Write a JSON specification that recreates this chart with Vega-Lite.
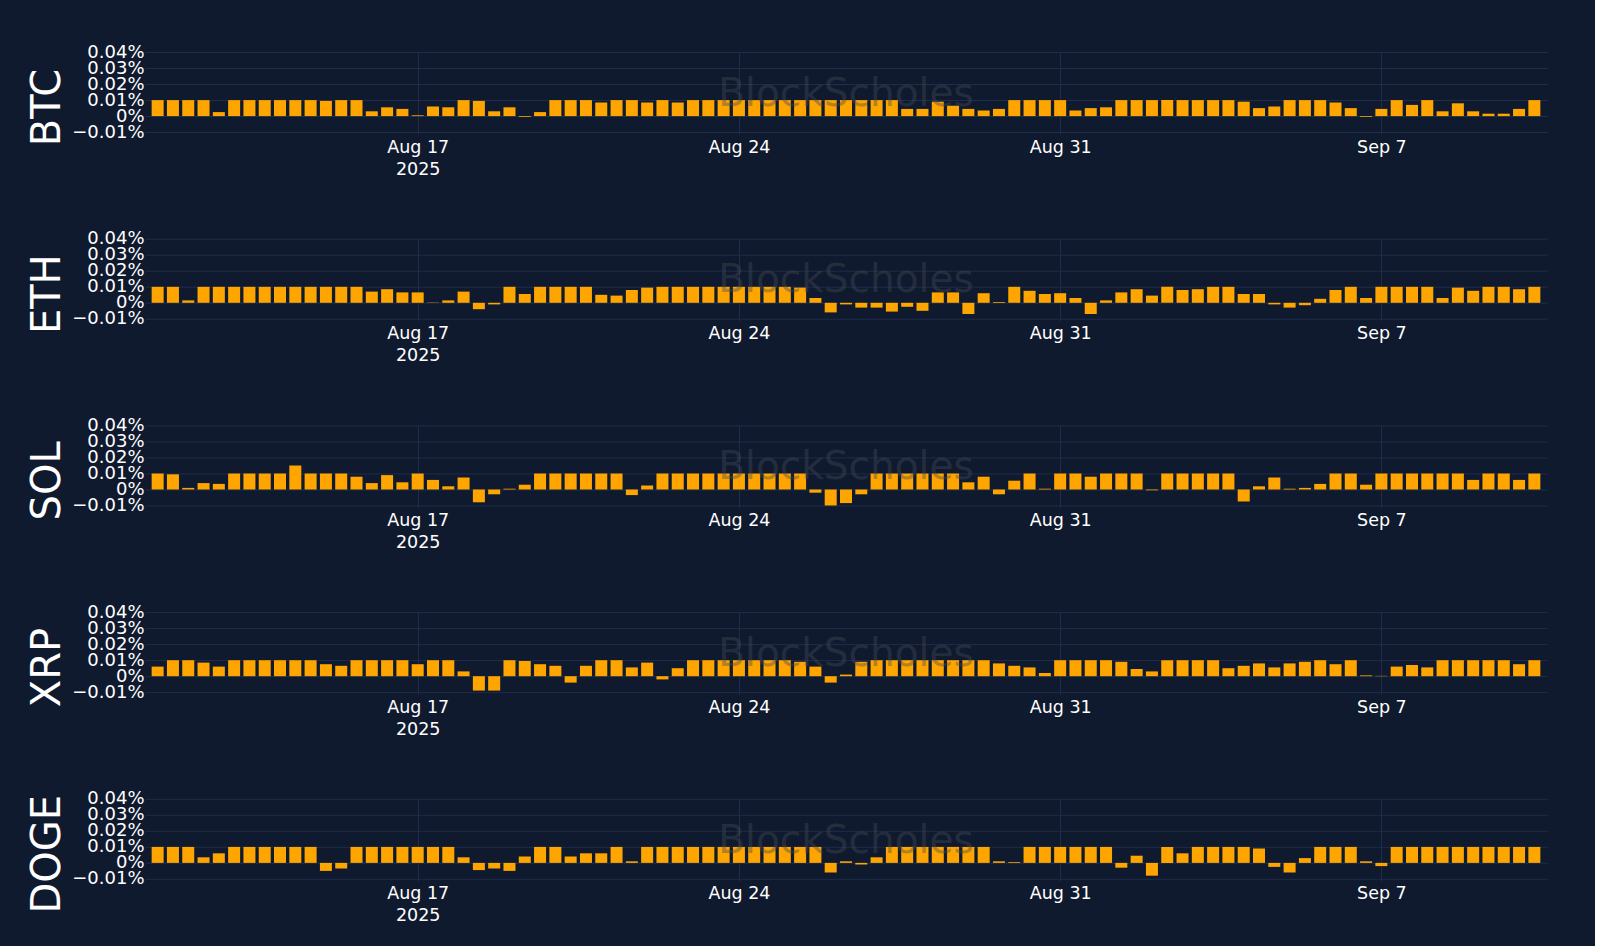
{
  "$schema": "https://vega.github.io/schema/vega-lite/v6.json",
  "background": "#101a2e",
  "padding": {"left": 27, "top": 43, "right": 48, "bottom": 22},
  "spacing": 104.7,
  "bounds": "flush",
  "datasets": {
    "BTC": [
      {"time":"2025-08-11T08:00Z","rate":0.01},{"time":"2025-08-11T16:00Z","rate":0.01},{"time":"2025-08-12T00:00Z","rate":0.01},{"time":"2025-08-12T08:00Z","rate":0.01},{"time":"2025-08-12T16:00Z","rate":0.0025},
      {"time":"2025-08-13T00:00Z","rate":0.01},{"time":"2025-08-13T08:00Z","rate":0.01},{"time":"2025-08-13T16:00Z","rate":0.01},{"time":"2025-08-14T00:00Z","rate":0.01},{"time":"2025-08-14T08:00Z","rate":0.01},
      {"time":"2025-08-14T16:00Z","rate":0.01},{"time":"2025-08-15T00:00Z","rate":0.0095},{"time":"2025-08-15T08:00Z","rate":0.01},{"time":"2025-08-15T16:00Z","rate":0.01},{"time":"2025-08-16T00:00Z","rate":0.003},
      {"time":"2025-08-16T08:00Z","rate":0.0055},{"time":"2025-08-16T16:00Z","rate":0.0045},{"time":"2025-08-17T00:00Z","rate":0.0005},{"time":"2025-08-17T08:00Z","rate":0.006},{"time":"2025-08-17T16:00Z","rate":0.0055},
      {"time":"2025-08-18T00:00Z","rate":0.01},{"time":"2025-08-18T08:00Z","rate":0.0095},{"time":"2025-08-18T16:00Z","rate":0.003},{"time":"2025-08-19T00:00Z","rate":0.0055},{"time":"2025-08-19T08:00Z","rate":-0.0005},
      {"time":"2025-08-19T16:00Z","rate":0.0025},{"time":"2025-08-20T00:00Z","rate":0.01},{"time":"2025-08-20T08:00Z","rate":0.01},{"time":"2025-08-20T16:00Z","rate":0.01},{"time":"2025-08-21T00:00Z","rate":0.0085},
      {"time":"2025-08-21T08:00Z","rate":0.01},{"time":"2025-08-21T16:00Z","rate":0.01},{"time":"2025-08-22T00:00Z","rate":0.0085},{"time":"2025-08-22T08:00Z","rate":0.01},{"time":"2025-08-22T16:00Z","rate":0.0085},
      {"time":"2025-08-23T00:00Z","rate":0.01},{"time":"2025-08-23T08:00Z","rate":0.01},{"time":"2025-08-23T16:00Z","rate":0.01},{"time":"2025-08-24T00:00Z","rate":0.01},{"time":"2025-08-24T08:00Z","rate":0.01},
      {"time":"2025-08-24T16:00Z","rate":0.01},{"time":"2025-08-25T00:00Z","rate":0.01},{"time":"2025-08-25T08:00Z","rate":0.01},{"time":"2025-08-25T16:00Z","rate":0.01},{"time":"2025-08-26T00:00Z","rate":0.01},
      {"time":"2025-08-26T08:00Z","rate":0.01},{"time":"2025-08-26T16:00Z","rate":0.01},{"time":"2025-08-27T00:00Z","rate":0.01},{"time":"2025-08-27T08:00Z","rate":0.01},{"time":"2025-08-27T16:00Z","rate":0.0045},
      {"time":"2025-08-28T00:00Z","rate":0.0045},{"time":"2025-08-28T08:00Z","rate":0.009},{"time":"2025-08-28T16:00Z","rate":0.0065},{"time":"2025-08-29T00:00Z","rate":0.0045},{"time":"2025-08-29T08:00Z","rate":0.0035},
      {"time":"2025-08-29T16:00Z","rate":0.0045},{"time":"2025-08-30T00:00Z","rate":0.01},{"time":"2025-08-30T08:00Z","rate":0.01},{"time":"2025-08-30T16:00Z","rate":0.01},{"time":"2025-08-31T00:00Z","rate":0.01},
      {"time":"2025-08-31T08:00Z","rate":0.0035},{"time":"2025-08-31T16:00Z","rate":0.005},{"time":"2025-09-01T00:00Z","rate":0.0055},{"time":"2025-09-01T08:00Z","rate":0.01},{"time":"2025-09-01T16:00Z","rate":0.01},
      {"time":"2025-09-02T00:00Z","rate":0.01},{"time":"2025-09-02T08:00Z","rate":0.01},{"time":"2025-09-02T16:00Z","rate":0.01},{"time":"2025-09-03T00:00Z","rate":0.01},{"time":"2025-09-03T08:00Z","rate":0.01},
      {"time":"2025-09-03T16:00Z","rate":0.01},{"time":"2025-09-04T00:00Z","rate":0.009},{"time":"2025-09-04T08:00Z","rate":0.005},{"time":"2025-09-04T16:00Z","rate":0.006},{"time":"2025-09-05T00:00Z","rate":0.01},
      {"time":"2025-09-05T08:00Z","rate":0.01},{"time":"2025-09-05T16:00Z","rate":0.01},{"time":"2025-09-06T00:00Z","rate":0.0085},{"time":"2025-09-06T08:00Z","rate":0.005},{"time":"2025-09-06T16:00Z","rate":-0.0005},
      {"time":"2025-09-07T00:00Z","rate":0.0045},{"time":"2025-09-07T08:00Z","rate":0.01},{"time":"2025-09-07T16:00Z","rate":0.007},{"time":"2025-09-08T00:00Z","rate":0.01},{"time":"2025-09-08T08:00Z","rate":0.003},
      {"time":"2025-09-08T16:00Z","rate":0.008},{"time":"2025-09-09T00:00Z","rate":0.003},{"time":"2025-09-09T08:00Z","rate":0.0015},{"time":"2025-09-09T16:00Z","rate":0.0015},{"time":"2025-09-10T00:00Z","rate":0.0045},
      {"time":"2025-09-10T08:00Z","rate":0.01}
    ],
    "ETH": [
      {"time":"2025-08-11T08:00Z","rate":0.01},{"time":"2025-08-11T16:00Z","rate":0.01},{"time":"2025-08-12T00:00Z","rate":0.0015},{"time":"2025-08-12T08:00Z","rate":0.01},{"time":"2025-08-12T16:00Z","rate":0.01},
      {"time":"2025-08-13T00:00Z","rate":0.01},{"time":"2025-08-13T08:00Z","rate":0.01},{"time":"2025-08-13T16:00Z","rate":0.01},{"time":"2025-08-14T00:00Z","rate":0.01},{"time":"2025-08-14T08:00Z","rate":0.01},
      {"time":"2025-08-14T16:00Z","rate":0.01},{"time":"2025-08-15T00:00Z","rate":0.01},{"time":"2025-08-15T08:00Z","rate":0.01},{"time":"2025-08-15T16:00Z","rate":0.01},{"time":"2025-08-16T00:00Z","rate":0.007},
      {"time":"2025-08-16T08:00Z","rate":0.0085},{"time":"2025-08-16T16:00Z","rate":0.0065},{"time":"2025-08-17T00:00Z","rate":0.0065},{"time":"2025-08-17T08:00Z","rate":0.0002},{"time":"2025-08-17T16:00Z","rate":0.0015},
      {"time":"2025-08-18T00:00Z","rate":0.007},{"time":"2025-08-18T08:00Z","rate":-0.004},{"time":"2025-08-18T16:00Z","rate":-0.001},{"time":"2025-08-19T00:00Z","rate":0.01},{"time":"2025-08-19T08:00Z","rate":0.0055},
      {"time":"2025-08-19T16:00Z","rate":0.01},{"time":"2025-08-20T00:00Z","rate":0.01},{"time":"2025-08-20T08:00Z","rate":0.01},{"time":"2025-08-20T16:00Z","rate":0.01},{"time":"2025-08-21T00:00Z","rate":0.005},
      {"time":"2025-08-21T08:00Z","rate":0.0045},{"time":"2025-08-21T16:00Z","rate":0.008},{"time":"2025-08-22T00:00Z","rate":0.0095},{"time":"2025-08-22T08:00Z","rate":0.01},{"time":"2025-08-22T16:00Z","rate":0.01},
      {"time":"2025-08-23T00:00Z","rate":0.01},{"time":"2025-08-23T08:00Z","rate":0.01},{"time":"2025-08-23T16:00Z","rate":0.01},{"time":"2025-08-24T00:00Z","rate":0.01},{"time":"2025-08-24T08:00Z","rate":0.01},
      {"time":"2025-08-24T16:00Z","rate":0.01},{"time":"2025-08-25T00:00Z","rate":0.01},{"time":"2025-08-25T08:00Z","rate":0.0095},{"time":"2025-08-25T16:00Z","rate":0.003},{"time":"2025-08-26T00:00Z","rate":-0.006},
      {"time":"2025-08-26T08:00Z","rate":-0.001},{"time":"2025-08-26T16:00Z","rate":-0.003},{"time":"2025-08-27T00:00Z","rate":-0.003},{"time":"2025-08-27T08:00Z","rate":-0.0055},{"time":"2025-08-27T16:00Z","rate":-0.0025},
      {"time":"2025-08-28T00:00Z","rate":-0.005},{"time":"2025-08-28T08:00Z","rate":0.0065},{"time":"2025-08-28T16:00Z","rate":0.0065},{"time":"2025-08-29T00:00Z","rate":-0.007},{"time":"2025-08-29T08:00Z","rate":0.006},
      {"time":"2025-08-29T16:00Z","rate":0.0005},{"time":"2025-08-30T00:00Z","rate":0.01},{"time":"2025-08-30T08:00Z","rate":0.0075},{"time":"2025-08-30T16:00Z","rate":0.0055},{"time":"2025-08-31T00:00Z","rate":0.006},
      {"time":"2025-08-31T08:00Z","rate":0.003},{"time":"2025-08-31T16:00Z","rate":-0.007},{"time":"2025-09-01T00:00Z","rate":0.0015},{"time":"2025-09-01T08:00Z","rate":0.0065},{"time":"2025-09-01T16:00Z","rate":0.0085},
      {"time":"2025-09-02T00:00Z","rate":0.0045},{"time":"2025-09-02T08:00Z","rate":0.01},{"time":"2025-09-02T16:00Z","rate":0.008},{"time":"2025-09-03T00:00Z","rate":0.0085},{"time":"2025-09-03T08:00Z","rate":0.01},
      {"time":"2025-09-03T16:00Z","rate":0.01},{"time":"2025-09-04T00:00Z","rate":0.0055},{"time":"2025-09-04T08:00Z","rate":0.0055},{"time":"2025-09-04T16:00Z","rate":-0.001},{"time":"2025-09-05T00:00Z","rate":-0.003},
      {"time":"2025-09-05T08:00Z","rate":-0.0015},{"time":"2025-09-05T16:00Z","rate":0.0025},{"time":"2025-09-06T00:00Z","rate":0.008},{"time":"2025-09-06T08:00Z","rate":0.01},{"time":"2025-09-06T16:00Z","rate":0.003},
      {"time":"2025-09-07T00:00Z","rate":0.01},{"time":"2025-09-07T08:00Z","rate":0.01},{"time":"2025-09-07T16:00Z","rate":0.01},{"time":"2025-09-08T00:00Z","rate":0.01},{"time":"2025-09-08T08:00Z","rate":0.003},
      {"time":"2025-09-08T16:00Z","rate":0.0095},{"time":"2025-09-09T00:00Z","rate":0.0075},{"time":"2025-09-09T08:00Z","rate":0.01},{"time":"2025-09-09T16:00Z","rate":0.01},{"time":"2025-09-10T00:00Z","rate":0.0085},
      {"time":"2025-09-10T08:00Z","rate":0.01}
    ],
    "SOL": [
      {"time":"2025-08-11T08:00Z","rate":0.01},{"time":"2025-08-11T16:00Z","rate":0.0095},{"time":"2025-08-12T00:00Z","rate":0.001},{"time":"2025-08-12T08:00Z","rate":0.004},{"time":"2025-08-12T16:00Z","rate":0.0035},
      {"time":"2025-08-13T00:00Z","rate":0.01},{"time":"2025-08-13T08:00Z","rate":0.01},{"time":"2025-08-13T16:00Z","rate":0.01},{"time":"2025-08-14T00:00Z","rate":0.01},{"time":"2025-08-14T08:00Z","rate":0.015},
      {"time":"2025-08-14T16:00Z","rate":0.01},{"time":"2025-08-15T00:00Z","rate":0.01},{"time":"2025-08-15T08:00Z","rate":0.01},{"time":"2025-08-15T16:00Z","rate":0.008},{"time":"2025-08-16T00:00Z","rate":0.004},
      {"time":"2025-08-16T08:00Z","rate":0.009},{"time":"2025-08-16T16:00Z","rate":0.0045},{"time":"2025-08-17T00:00Z","rate":0.01},{"time":"2025-08-17T08:00Z","rate":0.006},{"time":"2025-08-17T16:00Z","rate":0.002},
      {"time":"2025-08-18T00:00Z","rate":0.0075},{"time":"2025-08-18T08:00Z","rate":-0.008},{"time":"2025-08-18T16:00Z","rate":-0.003},{"time":"2025-08-19T00:00Z","rate":0.0005},{"time":"2025-08-19T08:00Z","rate":0.003},
      {"time":"2025-08-19T16:00Z","rate":0.01},{"time":"2025-08-20T00:00Z","rate":0.01},{"time":"2025-08-20T08:00Z","rate":0.01},{"time":"2025-08-20T16:00Z","rate":0.01},{"time":"2025-08-21T00:00Z","rate":0.01},
      {"time":"2025-08-21T08:00Z","rate":0.01},{"time":"2025-08-21T16:00Z","rate":-0.0035},{"time":"2025-08-22T00:00Z","rate":0.0025},{"time":"2025-08-22T08:00Z","rate":0.01},{"time":"2025-08-22T16:00Z","rate":0.01},
      {"time":"2025-08-23T00:00Z","rate":0.01},{"time":"2025-08-23T08:00Z","rate":0.01},{"time":"2025-08-23T16:00Z","rate":0.01},{"time":"2025-08-24T00:00Z","rate":0.01},{"time":"2025-08-24T08:00Z","rate":0.01},
      {"time":"2025-08-24T16:00Z","rate":0.01},{"time":"2025-08-25T00:00Z","rate":0.01},{"time":"2025-08-25T08:00Z","rate":0.01},{"time":"2025-08-25T16:00Z","rate":-0.002},{"time":"2025-08-26T00:00Z","rate":-0.01},
      {"time":"2025-08-26T08:00Z","rate":-0.0085},{"time":"2025-08-26T16:00Z","rate":-0.003},{"time":"2025-08-27T00:00Z","rate":0.01},{"time":"2025-08-27T08:00Z","rate":0.01},{"time":"2025-08-27T16:00Z","rate":0.01},
      {"time":"2025-08-28T00:00Z","rate":0.01},{"time":"2025-08-28T08:00Z","rate":0.01},{"time":"2025-08-28T16:00Z","rate":0.01},{"time":"2025-08-29T00:00Z","rate":0.0045},{"time":"2025-08-29T08:00Z","rate":0.008},
      {"time":"2025-08-29T16:00Z","rate":-0.003},{"time":"2025-08-30T00:00Z","rate":0.0055},{"time":"2025-08-30T08:00Z","rate":0.01},{"time":"2025-08-30T16:00Z","rate":0.0005},{"time":"2025-08-31T00:00Z","rate":0.01},
      {"time":"2025-08-31T08:00Z","rate":0.01},{"time":"2025-08-31T16:00Z","rate":0.008},{"time":"2025-09-01T00:00Z","rate":0.01},{"time":"2025-09-01T08:00Z","rate":0.01},{"time":"2025-09-01T16:00Z","rate":0.01},
      {"time":"2025-09-02T00:00Z","rate":-0.0005},{"time":"2025-09-02T08:00Z","rate":0.01},{"time":"2025-09-02T16:00Z","rate":0.01},{"time":"2025-09-03T00:00Z","rate":0.01},{"time":"2025-09-03T08:00Z","rate":0.01},
      {"time":"2025-09-03T16:00Z","rate":0.01},{"time":"2025-09-04T00:00Z","rate":-0.0075},{"time":"2025-09-04T08:00Z","rate":0.002},{"time":"2025-09-04T16:00Z","rate":0.0075},{"time":"2025-09-05T00:00Z","rate":0.0005},
      {"time":"2025-09-05T08:00Z","rate":0.001},{"time":"2025-09-05T16:00Z","rate":0.0035},{"time":"2025-09-06T00:00Z","rate":0.01},{"time":"2025-09-06T08:00Z","rate":0.01},{"time":"2025-09-06T16:00Z","rate":0.003},
      {"time":"2025-09-07T00:00Z","rate":0.01},{"time":"2025-09-07T08:00Z","rate":0.01},{"time":"2025-09-07T16:00Z","rate":0.01},{"time":"2025-09-08T00:00Z","rate":0.01},{"time":"2025-09-08T08:00Z","rate":0.01},
      {"time":"2025-09-08T16:00Z","rate":0.01},{"time":"2025-09-09T00:00Z","rate":0.006},{"time":"2025-09-09T08:00Z","rate":0.01},{"time":"2025-09-09T16:00Z","rate":0.01},{"time":"2025-09-10T00:00Z","rate":0.006},
      {"time":"2025-09-10T08:00Z","rate":0.01}
    ],
    "XRP": [
      {"time":"2025-08-11T08:00Z","rate":0.006},{"time":"2025-08-11T16:00Z","rate":0.01},{"time":"2025-08-12T00:00Z","rate":0.01},{"time":"2025-08-12T08:00Z","rate":0.0085},{"time":"2025-08-12T16:00Z","rate":0.006},
      {"time":"2025-08-13T00:00Z","rate":0.01},{"time":"2025-08-13T08:00Z","rate":0.01},{"time":"2025-08-13T16:00Z","rate":0.01},{"time":"2025-08-14T00:00Z","rate":0.01},{"time":"2025-08-14T08:00Z","rate":0.01},
      {"time":"2025-08-14T16:00Z","rate":0.01},{"time":"2025-08-15T00:00Z","rate":0.0075},{"time":"2025-08-15T08:00Z","rate":0.0065},{"time":"2025-08-15T16:00Z","rate":0.01},{"time":"2025-08-16T00:00Z","rate":0.01},
      {"time":"2025-08-16T08:00Z","rate":0.01},{"time":"2025-08-16T16:00Z","rate":0.01},{"time":"2025-08-17T00:00Z","rate":0.0075},{"time":"2025-08-17T08:00Z","rate":0.01},{"time":"2025-08-17T16:00Z","rate":0.01},
      {"time":"2025-08-18T00:00Z","rate":0.003},{"time":"2025-08-18T08:00Z","rate":-0.009},{"time":"2025-08-18T16:00Z","rate":-0.009},{"time":"2025-08-19T00:00Z","rate":0.01},{"time":"2025-08-19T08:00Z","rate":0.0095},
      {"time":"2025-08-19T16:00Z","rate":0.0075},{"time":"2025-08-20T00:00Z","rate":0.0065},{"time":"2025-08-20T08:00Z","rate":-0.004},{"time":"2025-08-20T16:00Z","rate":0.0065},{"time":"2025-08-21T00:00Z","rate":0.01},
      {"time":"2025-08-21T08:00Z","rate":0.01},{"time":"2025-08-21T16:00Z","rate":0.0055},{"time":"2025-08-22T00:00Z","rate":0.0085},{"time":"2025-08-22T08:00Z","rate":-0.002},{"time":"2025-08-22T16:00Z","rate":0.005},
      {"time":"2025-08-23T00:00Z","rate":0.01},{"time":"2025-08-23T08:00Z","rate":0.01},{"time":"2025-08-23T16:00Z","rate":0.01},{"time":"2025-08-24T00:00Z","rate":0.01},{"time":"2025-08-24T08:00Z","rate":0.01},
      {"time":"2025-08-24T16:00Z","rate":0.01},{"time":"2025-08-25T00:00Z","rate":0.01},{"time":"2025-08-25T08:00Z","rate":0.009},{"time":"2025-08-25T16:00Z","rate":0.006},{"time":"2025-08-26T00:00Z","rate":-0.004},
      {"time":"2025-08-26T08:00Z","rate":0.001},{"time":"2025-08-26T16:00Z","rate":0.009},{"time":"2025-08-27T00:00Z","rate":0.01},{"time":"2025-08-27T08:00Z","rate":0.01},{"time":"2025-08-27T16:00Z","rate":0.01},
      {"time":"2025-08-28T00:00Z","rate":0.01},{"time":"2025-08-28T08:00Z","rate":0.01},{"time":"2025-08-28T16:00Z","rate":0.01},{"time":"2025-08-29T00:00Z","rate":0.01},{"time":"2025-08-29T08:00Z","rate":0.01},
      {"time":"2025-08-29T16:00Z","rate":0.008},{"time":"2025-08-30T00:00Z","rate":0.0065},{"time":"2025-08-30T08:00Z","rate":0.0055},{"time":"2025-08-30T16:00Z","rate":0.002},{"time":"2025-08-31T00:00Z","rate":0.01},
      {"time":"2025-08-31T08:00Z","rate":0.01},{"time":"2025-08-31T16:00Z","rate":0.01},{"time":"2025-09-01T00:00Z","rate":0.01},{"time":"2025-09-01T08:00Z","rate":0.009},{"time":"2025-09-01T16:00Z","rate":0.0045},
      {"time":"2025-09-02T00:00Z","rate":0.003},{"time":"2025-09-02T08:00Z","rate":0.01},{"time":"2025-09-02T16:00Z","rate":0.01},{"time":"2025-09-03T00:00Z","rate":0.01},{"time":"2025-09-03T08:00Z","rate":0.01},
      {"time":"2025-09-03T16:00Z","rate":0.005},{"time":"2025-09-04T00:00Z","rate":0.0065},{"time":"2025-09-04T08:00Z","rate":0.008},{"time":"2025-09-04T16:00Z","rate":0.0055},{"time":"2025-09-05T00:00Z","rate":0.008},
      {"time":"2025-09-05T08:00Z","rate":0.009},{"time":"2025-09-05T16:00Z","rate":0.01},{"time":"2025-09-06T00:00Z","rate":0.0075},{"time":"2025-09-06T08:00Z","rate":0.01},{"time":"2025-09-06T16:00Z","rate":0.0005},
      {"time":"2025-09-07T00:00Z","rate":0.0002},{"time":"2025-09-07T08:00Z","rate":0.006},{"time":"2025-09-07T16:00Z","rate":0.007},{"time":"2025-09-08T00:00Z","rate":0.0055},{"time":"2025-09-08T08:00Z","rate":0.01},
      {"time":"2025-09-08T16:00Z","rate":0.01},{"time":"2025-09-09T00:00Z","rate":0.01},{"time":"2025-09-09T08:00Z","rate":0.01},{"time":"2025-09-09T16:00Z","rate":0.01},{"time":"2025-09-10T00:00Z","rate":0.0075},
      {"time":"2025-09-10T08:00Z","rate":0.01}
    ],
    "DOGE": [
      {"time":"2025-08-11T08:00Z","rate":0.01},{"time":"2025-08-11T16:00Z","rate":0.01},{"time":"2025-08-12T00:00Z","rate":0.01},{"time":"2025-08-12T08:00Z","rate":0.0035},{"time":"2025-08-12T16:00Z","rate":0.006},
      {"time":"2025-08-13T00:00Z","rate":0.01},{"time":"2025-08-13T08:00Z","rate":0.01},{"time":"2025-08-13T16:00Z","rate":0.01},{"time":"2025-08-14T00:00Z","rate":0.01},{"time":"2025-08-14T08:00Z","rate":0.01},
      {"time":"2025-08-14T16:00Z","rate":0.01},{"time":"2025-08-15T00:00Z","rate":-0.005},{"time":"2025-08-15T08:00Z","rate":-0.0035},{"time":"2025-08-15T16:00Z","rate":0.01},{"time":"2025-08-16T00:00Z","rate":0.01},
      {"time":"2025-08-16T08:00Z","rate":0.01},{"time":"2025-08-16T16:00Z","rate":0.01},{"time":"2025-08-17T00:00Z","rate":0.01},{"time":"2025-08-17T08:00Z","rate":0.01},{"time":"2025-08-17T16:00Z","rate":0.01},
      {"time":"2025-08-18T00:00Z","rate":0.0035},{"time":"2025-08-18T08:00Z","rate":-0.0045},{"time":"2025-08-18T16:00Z","rate":-0.0035},{"time":"2025-08-19T00:00Z","rate":-0.005},{"time":"2025-08-19T08:00Z","rate":0.004},
      {"time":"2025-08-19T16:00Z","rate":0.01},{"time":"2025-08-20T00:00Z","rate":0.01},{"time":"2025-08-20T08:00Z","rate":0.004},{"time":"2025-08-20T16:00Z","rate":0.006},{"time":"2025-08-21T00:00Z","rate":0.006},
      {"time":"2025-08-21T08:00Z","rate":0.01},{"time":"2025-08-21T16:00Z","rate":0.001},{"time":"2025-08-22T00:00Z","rate":0.01},{"time":"2025-08-22T08:00Z","rate":0.01},{"time":"2025-08-22T16:00Z","rate":0.01},
      {"time":"2025-08-23T00:00Z","rate":0.01},{"time":"2025-08-23T08:00Z","rate":0.01},{"time":"2025-08-23T16:00Z","rate":0.01},{"time":"2025-08-24T00:00Z","rate":0.01},{"time":"2025-08-24T08:00Z","rate":0.01},
      {"time":"2025-08-24T16:00Z","rate":0.01},{"time":"2025-08-25T00:00Z","rate":0.01},{"time":"2025-08-25T08:00Z","rate":0.01},{"time":"2025-08-25T16:00Z","rate":0.01},{"time":"2025-08-26T00:00Z","rate":-0.006},
      {"time":"2025-08-26T08:00Z","rate":0.001},{"time":"2025-08-26T16:00Z","rate":-0.001},{"time":"2025-08-27T00:00Z","rate":0.0035},{"time":"2025-08-27T08:00Z","rate":0.01},{"time":"2025-08-27T16:00Z","rate":0.01},
      {"time":"2025-08-28T00:00Z","rate":0.01},{"time":"2025-08-28T08:00Z","rate":0.01},{"time":"2025-08-28T16:00Z","rate":0.01},{"time":"2025-08-29T00:00Z","rate":0.01},{"time":"2025-08-29T08:00Z","rate":0.01},
      {"time":"2025-08-29T16:00Z","rate":0.001},{"time":"2025-08-30T00:00Z","rate":0.0005},{"time":"2025-08-30T08:00Z","rate":0.01},{"time":"2025-08-30T16:00Z","rate":0.01},{"time":"2025-08-31T00:00Z","rate":0.01},
      {"time":"2025-08-31T08:00Z","rate":0.01},{"time":"2025-08-31T16:00Z","rate":0.01},{"time":"2025-09-01T00:00Z","rate":0.01},{"time":"2025-09-01T08:00Z","rate":-0.003},{"time":"2025-09-01T16:00Z","rate":0.0045},
      {"time":"2025-09-02T00:00Z","rate":-0.008},{"time":"2025-09-02T08:00Z","rate":0.01},{"time":"2025-09-02T16:00Z","rate":0.006},{"time":"2025-09-03T00:00Z","rate":0.01},{"time":"2025-09-03T08:00Z","rate":0.01},
      {"time":"2025-09-03T16:00Z","rate":0.01},{"time":"2025-09-04T00:00Z","rate":0.01},{"time":"2025-09-04T08:00Z","rate":0.009},{"time":"2025-09-04T16:00Z","rate":-0.0025},{"time":"2025-09-05T00:00Z","rate":-0.006},
      {"time":"2025-09-05T08:00Z","rate":0.003},{"time":"2025-09-05T16:00Z","rate":0.01},{"time":"2025-09-06T00:00Z","rate":0.01},{"time":"2025-09-06T08:00Z","rate":0.01},{"time":"2025-09-06T16:00Z","rate":0.001},
      {"time":"2025-09-07T00:00Z","rate":-0.002},{"time":"2025-09-07T08:00Z","rate":0.01},{"time":"2025-09-07T16:00Z","rate":0.01},{"time":"2025-09-08T00:00Z","rate":0.01},{"time":"2025-09-08T08:00Z","rate":0.01},
      {"time":"2025-09-08T16:00Z","rate":0.01},{"time":"2025-09-09T00:00Z","rate":0.01},{"time":"2025-09-09T08:00Z","rate":0.01},{"time":"2025-09-09T16:00Z","rate":0.01},{"time":"2025-09-10T00:00Z","rate":0.01},
      {"time":"2025-09-10T08:00Z","rate":0.01}
    ],
    "watermark": [
      {"time":"2025-08-26T08:00Z","rate":0.014,"label":"BlockScholes"}
    ]
  },
  "vconcat": [
    {
      "width": 1402, "height": 82,
      "data": {"name": "BTC"},
      "encoding": {
        "x": {"field": "time", "type": "temporal",
          "scale": {"type": "utc", "domain": [{"year": 2025, "month": 8, "date": 11, "hours": 4, "utc": true}, {"year": 2025, "month": 9, "date": 10, "hours": 12, "utc": true}]},
          "axis": {"title": null, "values": [{"year": 2025, "month": 8, "date": 17, "utc": true}, {"year": 2025, "month": 8, "date": 24, "utc": true}, {"year": 2025, "month": 8, "date": 31, "utc": true}, {"year": 2025, "month": 9, "date": 7, "utc": true}],
            "labelExpr": "utcmonth(datum.value) == 7 && utcdate(datum.value) == 17 ? [utcFormat(datum.value, '%b %-d'), '2025'] : utcFormat(datum.value, '%b %-d')"}},
        "y": {"field": "rate", "type": "quantitative",
          "scale": {"domain": [-0.0112, 0.0401], "nice": false},
          "axis": {"title": "BTC", "values": [-0.01, 0, 0.01, 0.02, 0.03, 0.04], "labelExpr": "format(datum.value, '.2~f') + '%'"}}
      },
      "layer": [
        {"mark": {"type": "bar", "width": 12, "color": "#FFA500"}},
        {"data": {"name": "watermark"}, "mark": {"type": "text", "fontSize": 39, "color": "#444a55", "opacity": 0.4}, "encoding": {"text": {"field": "label"}}}
      ]
    },
    {
      "width": 1402, "height": 82,
      "data": {"name": "ETH"},
      "encoding": {
        "x": {"field": "time", "type": "temporal",
          "scale": {"type": "utc", "domain": [{"year": 2025, "month": 8, "date": 11, "hours": 4, "utc": true}, {"year": 2025, "month": 9, "date": 10, "hours": 12, "utc": true}]},
          "axis": {"title": null, "values": [{"year": 2025, "month": 8, "date": 17, "utc": true}, {"year": 2025, "month": 8, "date": 24, "utc": true}, {"year": 2025, "month": 8, "date": 31, "utc": true}, {"year": 2025, "month": 9, "date": 7, "utc": true}],
            "labelExpr": "utcmonth(datum.value) == 7 && utcdate(datum.value) == 17 ? [utcFormat(datum.value, '%b %-d'), '2025'] : utcFormat(datum.value, '%b %-d')"}},
        "y": {"field": "rate", "type": "quantitative",
          "scale": {"domain": [-0.0112, 0.0401], "nice": false},
          "axis": {"title": "ETH", "values": [-0.01, 0, 0.01, 0.02, 0.03, 0.04], "labelExpr": "format(datum.value, '.2~f') + '%'"}}
      },
      "layer": [
        {"mark": {"type": "bar", "width": 12, "color": "#FFA500"}},
        {"data": {"name": "watermark"}, "mark": {"type": "text", "fontSize": 39, "color": "#444a55", "opacity": 0.4}, "encoding": {"text": {"field": "label"}}}
      ]
    },
    {
      "width": 1402, "height": 82,
      "data": {"name": "SOL"},
      "encoding": {
        "x": {"field": "time", "type": "temporal",
          "scale": {"type": "utc", "domain": [{"year": 2025, "month": 8, "date": 11, "hours": 4, "utc": true}, {"year": 2025, "month": 9, "date": 10, "hours": 12, "utc": true}]},
          "axis": {"title": null, "values": [{"year": 2025, "month": 8, "date": 17, "utc": true}, {"year": 2025, "month": 8, "date": 24, "utc": true}, {"year": 2025, "month": 8, "date": 31, "utc": true}, {"year": 2025, "month": 9, "date": 7, "utc": true}],
            "labelExpr": "utcmonth(datum.value) == 7 && utcdate(datum.value) == 17 ? [utcFormat(datum.value, '%b %-d'), '2025'] : utcFormat(datum.value, '%b %-d')"}},
        "y": {"field": "rate", "type": "quantitative",
          "scale": {"domain": [-0.0112, 0.0401], "nice": false},
          "axis": {"title": "SOL", "values": [-0.01, 0, 0.01, 0.02, 0.03, 0.04], "labelExpr": "format(datum.value, '.2~f') + '%'"}}
      },
      "layer": [
        {"mark": {"type": "bar", "width": 12, "color": "#FFA500"}},
        {"data": {"name": "watermark"}, "mark": {"type": "text", "fontSize": 39, "color": "#444a55", "opacity": 0.4}, "encoding": {"text": {"field": "label"}}}
      ]
    },
    {
      "width": 1402, "height": 82,
      "data": {"name": "XRP"},
      "encoding": {
        "x": {"field": "time", "type": "temporal",
          "scale": {"type": "utc", "domain": [{"year": 2025, "month": 8, "date": 11, "hours": 4, "utc": true}, {"year": 2025, "month": 9, "date": 10, "hours": 12, "utc": true}]},
          "axis": {"title": null, "values": [{"year": 2025, "month": 8, "date": 17, "utc": true}, {"year": 2025, "month": 8, "date": 24, "utc": true}, {"year": 2025, "month": 8, "date": 31, "utc": true}, {"year": 2025, "month": 9, "date": 7, "utc": true}],
            "labelExpr": "utcmonth(datum.value) == 7 && utcdate(datum.value) == 17 ? [utcFormat(datum.value, '%b %-d'), '2025'] : utcFormat(datum.value, '%b %-d')"}},
        "y": {"field": "rate", "type": "quantitative",
          "scale": {"domain": [-0.0112, 0.0401], "nice": false},
          "axis": {"title": "XRP", "values": [-0.01, 0, 0.01, 0.02, 0.03, 0.04], "labelExpr": "format(datum.value, '.2~f') + '%'"}}
      },
      "layer": [
        {"mark": {"type": "bar", "width": 12, "color": "#FFA500"}},
        {"data": {"name": "watermark"}, "mark": {"type": "text", "fontSize": 39, "color": "#444a55", "opacity": 0.4}, "encoding": {"text": {"field": "label"}}}
      ]
    },
    {
      "width": 1402, "height": 82,
      "data": {"name": "DOGE"},
      "encoding": {
        "x": {"field": "time", "type": "temporal",
          "scale": {"type": "utc", "domain": [{"year": 2025, "month": 8, "date": 11, "hours": 4, "utc": true}, {"year": 2025, "month": 9, "date": 10, "hours": 12, "utc": true}]},
          "axis": {"title": null, "values": [{"year": 2025, "month": 8, "date": 17, "utc": true}, {"year": 2025, "month": 8, "date": 24, "utc": true}, {"year": 2025, "month": 8, "date": 31, "utc": true}, {"year": 2025, "month": 9, "date": 7, "utc": true}],
            "labelExpr": "utcmonth(datum.value) == 7 && utcdate(datum.value) == 17 ? [utcFormat(datum.value, '%b %-d'), '2025'] : utcFormat(datum.value, '%b %-d')"}},
        "y": {"field": "rate", "type": "quantitative",
          "scale": {"domain": [-0.0112, 0.0401], "nice": false},
          "axis": {"title": "DOGE", "values": [-0.01, 0, 0.01, 0.02, 0.03, 0.04], "labelExpr": "format(datum.value, '.2~f') + '%'"}}
      },
      "layer": [
        {"mark": {"type": "bar", "width": 12, "color": "#FFA500"}},
        {"data": {"name": "watermark"}, "mark": {"type": "text", "fontSize": 39, "color": "#444a55", "opacity": 0.4}, "encoding": {"text": {"field": "label"}}}
      ]
    }
  ],
  "config": {
    "font": "DejaVu Sans",
    "view": {"stroke": null},
    "axisX": {
      "grid": true, "gridColor": "#1f2c4a", "domain": false, "ticks": false,
      "labelColor": "#ffffff", "labelFontSize": 17.5, "labelPadding": 4, "labelLineHeight": 22,
      "labelOverlap": false, "labelFlush": false
    },
    "axisY": {
      "grid": true, "gridColor": "#1f2c4a", "domain": false, "ticks": false,
      "labelColor": "#ffffff", "labelFontSize": 18, "labelPadding": 1, "labelOverlap": false,
      "titleFontSize": 40, "titleFontWeight": "normal", "titleColor": "#ffffff",
      "titleAngle": 270, "titleX": -98, "titleY": 55, "titleAlign": "center", "titleBaseline": "middle"
    }
  }
}
